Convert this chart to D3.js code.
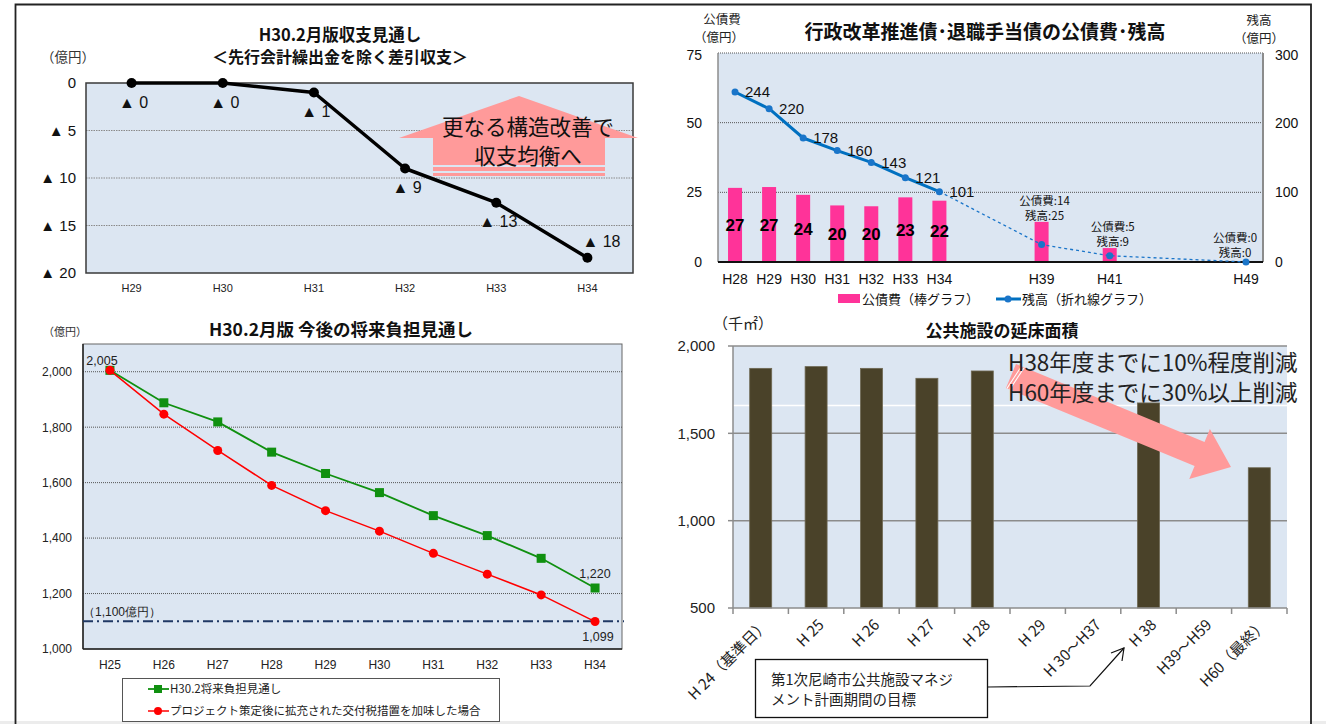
<!DOCTYPE html>
<html lang="ja">
<head>
<meta charset="utf-8">
<script src="https://cdn.jsdelivr.net/npm/d3@7"></script>
<style>
  html, body { margin: 0; padding: 0; background: #ffffff; }
  svg { display: block; }
</style>
</head>
<body>
<svg id="chart" width="1326" height="724"></svg>
<script>
// ---- 収支見通し（億円）
const balanceYears = ["H29", "H30", "H31", "H32", "H33", "H34"];
const balanceValues = [0, 0, -1, -9, -12.6, -18.4];
const balanceTicks = [0, -5, -10, -15, -20];

// ---- 行政改革推進債・退職手当債（億円）
const bondSlots = ["H28", "H29", "H30", "H31", "H32", "H33", "H34", "s1", "s2", "H39", "s3", "H41", "s4", "s5", "s6", "H49"];
const bondYears = ["H28", "H29", "H30", "H31", "H32", "H33", "H34", "H39", "H41", "H49"];
const bondDebtService = [26.6, 26.9, 24.1, 20.3, 20.0, 23.2, 22.0, 14.4, 5.0, 0];
const bondOutstanding = [244, 220, 178, 160, 143, 121, 101, 25, 9, 0];
const bondLeftTicks = [0, 25, 50, 75];
const bondRightTicks = [0, 100, 200, 300];

// ---- 将来負担見通し（億円）
const burdenYears = ["H25", "H26", "H27", "H28", "H29", "H30", "H31", "H32", "H33", "H34"];
const burdenPlan = [2005, 1888, 1819, 1710, 1633, 1564, 1481, 1409, 1327, 1220];
const burdenAdjusted = [2005, 1847, 1716, 1590, 1499, 1425, 1345, 1270, 1195, 1099];
const burdenFloor = 1100;
const burdenTicks = [1000, 1200, 1400, 1600, 1800, 2000];

// ---- 公共施設の延床面積（千㎡）
const floorPeriods = ["H 24（基準日）", "H 25", "H 26", "H 27", "H 28", "H 29", "H 30～H37", "H 38", "H39～H59", "H60（最終）"];
const floorArea = [1872, 1882, 1872, 1815, 1857, null, null, 1674, null, 1303];
const floorTicks = [500, 1000, 1500, 2000];
const floorTargetLine = 1660;

const JP = "'Noto Sans CJK JP', 'Noto Sans', sans-serif";
const NARROW = "'Liberation Sans Narrow', 'Arial Narrow', 'Liberation Sans', sans-serif";
const PLOT_BG = "#dce6f2";

const svg = d3.select("#chart");

// outer frame
svg.append("rect").attr("x", 0).attr("y", 721).attr("width", 1326).attr("height", 3).attr("fill", "#ececec");
svg.append("path")
  .attr("d", "M15.5,724 L15.5,4.5 L1311,4.5 L1311,724")
  .attr("fill", "none").attr("stroke", "#222").attr("stroke-width", 1.8);

/* =========================================================
   1. H30.2月版収支見通し
   ========================================================= */
{
  const g = svg.append("g");
  const L = 86, R = 633, T = 83, B = 273;
  const x = d3.scaleBand().domain(balanceYears).range([L, R]);
  const y = d3.scaleLinear().domain([-20, 0]).range([B, T]);

  g.append("rect").attr("x", L).attr("y", T).attr("width", R - L).attr("height", B - T).attr("fill", PLOT_BG);
  g.selectAll("line.grid").data(balanceTicks.filter(d => d !== 0 && d !== -20)).join("line")
    .attr("x1", L).attr("x2", R).attr("y1", d => y(d)).attr("y2", d => y(d))
    .attr("stroke", "#8a8a8a").attr("stroke-width", 1).attr("stroke-dasharray", "1.5,1");
  g.append("rect").attr("x", L).attr("y", T).attr("width", R - L).attr("height", B - T)
    .attr("fill", "none").attr("stroke", "#3a3a3a").attr("stroke-width", 1.5);

  // y axis labels
  g.selectAll("text.yt").data(balanceTicks).join("text")
    .attr("x", 76).attr("y", d => y(d)).attr("dy", "0.36em").attr("text-anchor", "end")
    .attr("font-family", NARROW).attr("font-size", 15).attr("fill", "#111")
    .text(d => d === 0 ? "0" : "▲ " + (-d));
  // x axis labels
  const xa = g.append("g").attr("transform", `translate(0,${B})`)
    .call(d3.axisBottom(x).tickSize(0).tickPadding(11));
  xa.select(".domain").remove();
  xa.selectAll("text").attr("font-family", NARROW).attr("font-size", 11).attr("fill", "#222");

  // titles
  g.append("text").attr("x", 340).attr("y", 35).attr("dy", "0.36em").attr("text-anchor", "middle")
    .attr("font-family", JP).attr("font-weight", "bold").attr("font-size", 16.5).attr("fill", "#111")
    .text("H30.2月版収支見通し");
  g.append("text").attr("x", 340).attr("y", 57).attr("dy", "0.36em").attr("text-anchor", "middle")
    .attr("font-family", JP).attr("font-weight", "bold").attr("font-size", 16).attr("fill", "#111")
    .text("＜先行会計繰出金を除く差引収支＞");
  g.append("text").attr("x", 68).attr("y", 57).attr("dy", "0.36em").attr("text-anchor", "middle")
    .attr("font-family", JP).attr("font-size", 13.5).attr("fill", "#333").text("（億円）");

  // pink "balanced budget" arrow
  const ax = g.append("g");
  ax.append("path")
    .attr("d", "M519,96 L638,138 L605,138 L605,165 L433,165 L433,138 L399,138 Z")
    .attr("fill", "#ff9a9a");
  ax.append("rect").attr("x", 433).attr("y", 167).attr("width", 172).attr("height", 4).attr("fill", "#ff9a9a");
  ax.append("rect").attr("x", 433).attr("y", 173).attr("width", 172).attr("height", 3).attr("fill", "#ff9a9a");
  ax.append("text").attr("x", 528).attr("y", 127).attr("dy", "0.36em").attr("text-anchor", "middle")
    .attr("font-family", JP).attr("font-size", 21.5).attr("fill", "#111").text("更なる構造改善で");
  ax.append("text").attr("x", 528).attr("y", 156).attr("dy", "0.36em").attr("text-anchor", "middle")
    .attr("font-family", JP).attr("font-size", 21.5).attr("fill", "#111").text("収支均衡へ");

  const pts = balanceYears.map((k, i) => [x(k) + x.bandwidth() / 2, y(balanceValues[i])]);
  g.append("path").attr("d", d3.line()(pts)).attr("fill", "none")
    .attr("stroke", "#000").attr("stroke-width", 3.5).attr("stroke-linejoin", "round");
  g.selectAll("circle.pt").data(pts).join("circle")
    .attr("cx", d => d[0]).attr("cy", d => d[1]).attr("r", 5).attr("fill", "#000");
  g.selectAll("text.lbl").data(pts).join("text")
    .attr("x", (d, i) => i === pts.length - 1 ? d[0] + 14 : d[0] + 2)
    .attr("y", (d, i) => i === pts.length - 1 ? d[1] - 17 : d[1] + 19)
    .attr("dy", "0.36em").attr("text-anchor", "middle")
    .attr("font-family", NARROW).attr("font-size", 16).attr("fill", "#111")
    .text((d, i) => "▲ " + Math.round(-balanceValues[i]));
}

/* =========================================================
   2. 行政改革推進債・退職手当債の公債費・残高
   ========================================================= */
{
  const g = svg.append("g");
  const L = 718, R = 1263, T = 53, B = 262;
  const x = d3.scaleBand().domain(bondSlots).range([L, R]);
  const cx = k => x(k) + x.bandwidth() / 2;
  const yL = d3.scaleLinear().domain([0, 75]).range([B, T]);
  const yR = d3.scaleLinear().domain([0, 300]).range([B, T]);

  g.append("rect").attr("x", L).attr("y", T).attr("width", R - L).attr("height", B - T).attr("fill", PLOT_BG);
  g.selectAll("line.grid").data(bondLeftTicks.filter(d => d > 0)).join("line")
    .attr("x1", L).attr("x2", R).attr("y1", d => yL(d)).attr("y2", d => yL(d))
    .attr("stroke", "#555").attr("stroke-width", 1).attr("stroke-dasharray", "1,1");
  g.append("line").attr("x1", L).attr("x2", L).attr("y1", T).attr("y2", B).attr("stroke", "#8c8c8c").attr("stroke-width", 1.5);
  g.append("line").attr("x1", R).attr("x2", R).attr("y1", T).attr("y2", B).attr("stroke", "#8c8c8c").attr("stroke-width", 2);

  // bars
  g.selectAll("rect.bar").data(bondYears).join("rect")
    .attr("x", k => cx(k) - 7).attr("width", 14)
    .attr("y", (k, i) => yL(bondDebtService[i])).attr("height", (k, i) => B - yL(bondDebtService[i]))
    .attr("fill", "#ff3399");
  g.append("line").attr("x1", L).attr("x2", R).attr("y1", B).attr("y2", B).attr("stroke", "#111").attr("stroke-width", 2);

  // values inside the first seven bars
  g.selectAll("text.barv").data(bondYears.slice(0, 7)).join("text")
    .attr("x", k => cx(k)).attr("y", (k, i) => (yL(bondDebtService[i]) + B) / 2).attr("dy", "0.36em")
    .attr("text-anchor", "middle").attr("font-family", NARROW).attr("font-weight", "bold")
    .attr("font-size", 17).attr("fill", "#000")
    .text((k, i) => Math.round(bondDebtService[i]));

  // outstanding balance line: solid through H34, dashed afterwards
  const pts = bondYears.map((k, i) => [cx(k), yR(bondOutstanding[i])]);
  g.append("path").attr("d", d3.line()(pts.slice(6))).attr("fill", "none")
    .attr("stroke", "#1a75c9").attr("stroke-width", 1.3).attr("stroke-dasharray", "3,3");
  g.append("path").attr("d", d3.line()(pts.slice(0, 7))).attr("fill", "none")
    .attr("stroke", "#0070c0").attr("stroke-width", 3).attr("stroke-linejoin", "round");
  g.selectAll("circle.pt").data(pts).join("circle")
    .attr("cx", d => d[0]).attr("cy", d => d[1]).attr("r", 3.5).attr("fill", "#1a75c9");
  g.selectAll("text.lv").data(pts.slice(0, 7)).join("text")
    .attr("x", d => d[0] + 10).attr("y", d => d[1]).attr("dy", "0.36em")
    .attr("font-family", NARROW).attr("font-size", 15).attr("fill", "#111")
    .text((d, i) => bondOutstanding[i]);

  // two-line annotations for the later years
  bondYears.slice(7).forEach((k, j) => {
    const i = j + 7;
    const ax = Math.min(cx(k) + 3, R - 28);
    const ay = yL(bondDebtService[i]) - 6 - (bondDebtService[i] === 0 ? 3 : 0);
    g.append("text").attr("x", ax).attr("y", ay - 15).attr("dy", "0.36em").attr("text-anchor", "middle")
      .attr("font-family", JP).attr("font-size", 11.5).attr("fill", "#111").text("公債費:" + Math.round(bondDebtService[i]));
    g.append("text").attr("x", ax).attr("y", ay).attr("dy", "0.36em").attr("text-anchor", "middle")
      .attr("font-family", JP).attr("font-size", 11.5).attr("fill", "#111").text("残高:" + bondOutstanding[i]);
  });

  // axes text
  g.selectAll("text.yl").data(bondLeftTicks).join("text")
    .attr("x", 702).attr("y", d => yL(d) + (d === 75 ? 2 : 0)).attr("dy", "0.36em").attr("text-anchor", "end")
    .attr("font-family", NARROW).attr("font-size", 14).attr("fill", "#111").text(d => d);
  g.selectAll("text.yr").data(bondRightTicks).join("text")
    .attr("x", 1275).attr("y", d => yR(d) + (d === 300 ? 2 : 0)).attr("dy", "0.36em").attr("text-anchor", "start")
    .attr("font-family", NARROW).attr("font-size", 14).attr("fill", "#111").text(d => d);
  g.selectAll("text.xl").data(bondYears).join("text")
    .attr("x", k => cx(k)).attr("y", 279).attr("dy", "0.36em").attr("text-anchor", "middle")
    .attr("font-family", NARROW).attr("font-size", 14).attr("fill", "#111").text(k => k);

  g.append("text").attr("x", 985).attr("y", 32).attr("dy", "0.36em").attr("text-anchor", "middle")
    .attr("font-family", JP).attr("font-weight", "bold").attr("font-size", 19).attr("fill", "#111")
    .text("行政改革推進債･退職手当債の公債費･残高");
  [["公債費", 722, 19], ["（億円）", 719, 37], ["残高", 1259, 20], ["（億円）", 1259, 38]].forEach(t => {
    g.append("text").attr("x", t[1]).attr("y", t[2]).attr("dy", "0.36em").attr("text-anchor", "middle")
      .attr("font-family", JP).attr("font-size", 12.5).attr("fill", "#222").text(t[0]);
  });

  // legend
  g.append("rect").attr("x", 838).attr("y", 294).attr("width", 22).attr("height", 9).attr("fill", "#ff3399");
  g.append("text").attr("x", 862).attr("y", 299).attr("dy", "0.36em").attr("font-family", JP)
    .attr("font-size", 13).attr("fill", "#111").text("公債費（棒グラフ）");
  g.append("line").attr("x1", 996).attr("x2", 1021).attr("y1", 299).attr("y2", 299).attr("stroke", "#0070c0").attr("stroke-width", 3);
  g.append("circle").attr("cx", 1008).attr("cy", 299).attr("r", 3.5).attr("fill", "#1a75c9");
  g.append("text").attr("x", 1022).attr("y", 299).attr("dy", "0.36em").attr("font-family", JP)
    .attr("font-size", 13).attr("fill", "#111").text("残高（折れ線グラフ）");
}

/* =========================================================
   3. H30.2月版 今後の将来負担見通し
   ========================================================= */
{
  const g = svg.append("g");
  const L = 83, R = 622, T = 344, B = 649;
  const x = d3.scaleBand().domain(burdenYears).range([L, R]);
  const cx = k => x(k) + x.bandwidth() / 2;
  const y = d3.scaleLinear().domain([1000, 2100]).range([B, T]);

  g.append("rect").attr("x", L).attr("y", T).attr("width", R - L).attr("height", B - T)
    .attr("fill", PLOT_BG).attr("stroke", "#666").attr("stroke-width", 1);
  g.selectAll("line.grid").data(burdenTicks.filter(d => d > 1000)).join("line")
    .attr("x1", L).attr("x2", R).attr("y1", d => y(d)).attr("y2", d => y(d))
    .attr("stroke", "#555").attr("stroke-width", 1).attr("stroke-dasharray", "1,1");
  g.append("line").attr("x1", L).attr("x2", L).attr("y1", T).attr("y2", B).attr("stroke", "#222").attr("stroke-width", 1.5);
  g.append("line").attr("x1", L).attr("x2", R).attr("y1", B).attr("y2", B).attr("stroke", "#222").attr("stroke-width", 1.5);

  // 1,100 reference line
  g.append("line").attr("x1", L).attr("x2", R + 2).attr("y1", y(burdenFloor)).attr("y2", y(burdenFloor))
    .attr("stroke", "#1f3864").attr("stroke-width", 2).attr("stroke-dasharray", "10,4,2,4");
  g.append("text").attr("x", 122).attr("y", 612).attr("dy", "0.36em").attr("text-anchor", "middle")
    .attr("font-family", NARROW).attr("font-size", 12).attr("fill", "#222")
    .text("（" + d3.format(",")(burdenFloor) + "億円）");

  const fmt = d3.format(",");
  g.selectAll("text.yt").data(burdenTicks).join("text")
    .attr("x", 72).attr("y", d => y(d)).attr("dy", "0.36em").attr("text-anchor", "end")
    .attr("font-family", NARROW).attr("font-size", 12).attr("fill", "#222").text(d => fmt(d));
  g.selectAll("text.xt").data(burdenYears).join("text")
    .attr("x", k => cx(k)).attr("y", 665).attr("dy", "0.36em").attr("text-anchor", "middle")
    .attr("font-family", NARROW).attr("font-size", 12).attr("fill", "#222").text(k => k);

  const gp = burdenYears.map((k, i) => [cx(k), y(burdenPlan[i])]);
  const rp = burdenYears.map((k, i) => [cx(k), y(burdenAdjusted[i])]);
  g.append("path").attr("d", d3.line()(gp)).attr("fill", "none").attr("stroke", "#109010").attr("stroke-width", 1.8);
  g.selectAll("rect.gm").data(gp).join("rect")
    .attr("x", d => d[0] - 4.5).attr("y", d => d[1] - 4.5).attr("width", 9).attr("height", 9).attr("fill", "#109010");
  g.append("path").attr("d", d3.line()(rp)).attr("fill", "none").attr("stroke", "#ff0000").attr("stroke-width", 1.5);
  g.selectAll("circle.rm").data(rp).join("circle")
    .attr("cx", d => d[0]).attr("cy", d => d[1]).attr("r", 4.5).attr("fill", "#ff0000");

  // value labels
  [[fmt(burdenPlan[0]), 102, 360], [fmt(burdenPlan[9]), 595, 573], [fmt(burdenAdjusted[9]), 598, 636]].forEach(t => {
    g.append("text").attr("x", t[1]).attr("y", t[2]).attr("dy", "0.36em").attr("text-anchor", "middle")
      .attr("font-family", NARROW).attr("font-size", 12.5).attr("fill", "#222").text(t[0]);
  });

  g.append("text").attr("x", 341).attr("y", 330).attr("dy", "0.36em").attr("text-anchor", "middle")
    .attr("font-family", JP).attr("font-weight", "bold").attr("font-size", 17.5).attr("fill", "#111")
    .text("H30.2月版  今後の将来負担見通し");
  g.append("text").attr("x", 65).attr("y", 332).attr("dy", "0.36em").attr("text-anchor", "middle")
    .attr("font-family", JP).attr("font-size", 11).attr("fill", "#333").text("（億円）");

  // legend
  g.append("rect").attr("x", 122.5).attr("y", 678.5).attr("width", 377).attr("height", 43)
    .attr("fill", "#fff").attr("stroke", "#555").attr("stroke-width", 1);
  g.append("line").attr("x1", 148).attr("x2", 169).attr("y1", 689).attr("y2", 689).attr("stroke", "#109010").attr("stroke-width", 1.8);
  g.append("rect").attr("x", 154).attr("y", 685).attr("width", 8).attr("height", 8).attr("fill", "#109010");
  g.append("text").attr("x", 170).attr("y", 689).attr("dy", "0.36em").attr("font-family", JP)
    .attr("font-size", 11.5).attr("fill", "#222").text("H30.2将来負担見通し");
  g.append("line").attr("x1", 148).attr("x2", 169).attr("y1", 711).attr("y2", 711).attr("stroke", "#ff0000").attr("stroke-width", 1.5);
  g.append("circle").attr("cx", 158).attr("cy", 711).attr("r", 4).attr("fill", "#ff0000");
  g.append("text").attr("x", 170).attr("y", 711).attr("dy", "0.36em").attr("font-family", JP)
    .attr("font-size", 11.5).attr("fill", "#222").text("プロジェクト策定後に拡充された交付税措置を加味した場合");
}

/* =========================================================
   4. 公共施設の延床面積
   ========================================================= */
{
  const g = svg.append("g");
  const L = 733, R = 1287, T = 346, B = 608;
  const x = d3.scaleBand().domain(floorPeriods).range([L, R]);
  const cx = k => x(k) + x.bandwidth() / 2;
  const y = d3.scaleLinear().domain([500, 2000]).range([B, T]);
  const fmt = d3.format(",");

  g.append("rect").attr("x", L).attr("y", T).attr("width", R - L).attr("height", B - T).attr("fill", PLOT_BG);
  g.selectAll("line.grid").data(floorTicks.filter(d => d > 500)).join("line")
    .attr("x1", L).attr("x2", R).attr("y1", d => y(d)).attr("y2", d => y(d))
    .attr("stroke", "#8c8c8c").attr("stroke-width", 1.5);
  g.append("line").attr("x1", L).attr("x2", R).attr("y1", y(floorTargetLine)).attr("y2", y(floorTargetLine))
    .attr("stroke", "#ffffff").attr("stroke-width", 1.5);

  const data = floorPeriods.map((k, i) => ({ k, v: floorArea[i] })).filter(d => d.v != null);
  g.selectAll("rect.bar").data(data).join("rect")
    .attr("x", d => cx(d.k) - 11).attr("width", 22)
    .attr("y", d => y(d.v)).attr("height", d => B - y(d.v))
    .attr("fill", "#4a4229").attr("stroke", "#6e6853").attr("stroke-width", 0.8);

  // axes
  g.append("line").attr("x1", L).attr("x2", L).attr("y1", T).attr("y2", B).attr("stroke", "#8c8c8c").attr("stroke-width", 1.5);
  g.selectAll("line.yt").data(floorTicks).join("line")
    .attr("x1", L - 5).attr("x2", L).attr("y1", d => y(d)).attr("y2", d => y(d)).attr("stroke", "#8c8c8c").attr("stroke-width", 1.5);
  g.append("line").attr("x1", L).attr("x2", R).attr("y1", B).attr("y2", B).attr("stroke", "#8c8c8c").attr("stroke-width", 1.5);
  g.selectAll("line.xt").data(d3.range(floorPeriods.length + 1)).join("line")
    .attr("x1", i => L + i * x.step()).attr("x2", i => L + i * x.step())
    .attr("y1", B).attr("y2", B + 6).attr("stroke", "#8c8c8c").attr("stroke-width", 1.5);

  g.selectAll("text.yl").data(floorTicks).join("text")
    .attr("x", 715).attr("y", d => y(d)).attr("dy", "0.36em").attr("text-anchor", "end")
    .attr("font-family", "'Liberation Sans', sans-serif").attr("font-size", 15).attr("fill", "#222").text(d => fmt(d));
  g.selectAll("text.xl").data(floorPeriods).join("text")
    .attr("transform", k => `translate(${cx(k) + 5},${B + 14}) rotate(-45)`)
    .attr("text-anchor", "end").attr("dy", "0.36em")
    .attr("font-family", JP).attr("font-size", 15).attr("fill", "#222").text(k => k);

  g.append("text").attr("x", 1002).attr("y", 331).attr("dy", "0.36em").attr("text-anchor", "middle")
    .attr("font-family", JP).attr("font-weight", "bold").attr("font-size", 17).attr("fill", "#111")
    .text("公共施設の延床面積");
  g.append("text").attr("x", 743).attr("y", 324).attr("dy", "0.36em").attr("text-anchor", "middle")
    .attr("font-family", JP).attr("font-size", 15).attr("fill", "#222").text("（千㎡）");

  // reduction arrow
  const x0 = 1011, y0 = 376, x1 = 1231, y1 = 467;
  const len = Math.hypot(x1 - x0, y1 - y0);
  const ang = Math.atan2(y1 - y0, x1 - x0) * 180 / Math.PI;
  const ar = g.append("g").attr("transform", `translate(${x0},${y0}) rotate(${ang})`);
  const hl = 34, sw = 13, hw = 27;
  ar.append("path")
    .attr("d", `M0,${-sw} L${len - hl},${-sw} L${len - hl},${-hw} L${len},0 L${len - hl},${hw} L${len - hl},${sw} L0,${sw} Z`)
    .attr("fill", "#ff9a9a");
  ar.append("line").attr("x1", 6).attr("y1", -sw).attr("x2", 1).attr("y2", sw).attr("stroke", "#fff").attr("stroke-width", 1);
  ar.append("line").attr("x1", 9).attr("y1", -sw).attr("x2", 4).attr("y2", sw).attr("stroke", "#fff").attr("stroke-width", 1);

  g.append("text").attr("x", 1008).attr("y", 363).attr("dy", "0.36em")
    .attr("font-family", JP).attr("font-size", 22.5).attr("fill", "#222").text("H38年度までに10%程度削減");
  g.append("text").attr("x", 1008).attr("y", 393).attr("dy", "0.36em")
    .attr("font-family", JP).attr("font-size", 22.5).attr("fill", "#222").text("H60年度までに30%以上削減");

  // plan period note
  g.append("rect").attr("x", 755.5).attr("y", 659.5).attr("width", 232).attr("height", 58)
    .attr("fill", "#fff").attr("stroke", "#111").attr("stroke-width", 1.3);
  g.append("text").attr("x", 771).attr("y", 680).attr("dy", "0.36em").attr("font-family", JP)
    .attr("font-size", 14.5).attr("fill", "#222").text("第1次尼崎市公共施設マネジ");
  g.append("text").attr("x", 771).attr("y", 700).attr("dy", "0.36em").attr("font-family", JP)
    .attr("font-size", 14.5).attr("fill", "#222").text("メント計画期間の目標");
  g.append("path").attr("d", "M988,687 L1090,686 L1124,648").attr("fill", "none").attr("stroke", "#111").attr("stroke-width", 1.2);
  g.append("path").attr("d", "M1111,653 L1124,648 L1122,661").attr("fill", "none").attr("stroke", "#111").attr("stroke-width", 1.2);
}
</script>
</body>
</html>
